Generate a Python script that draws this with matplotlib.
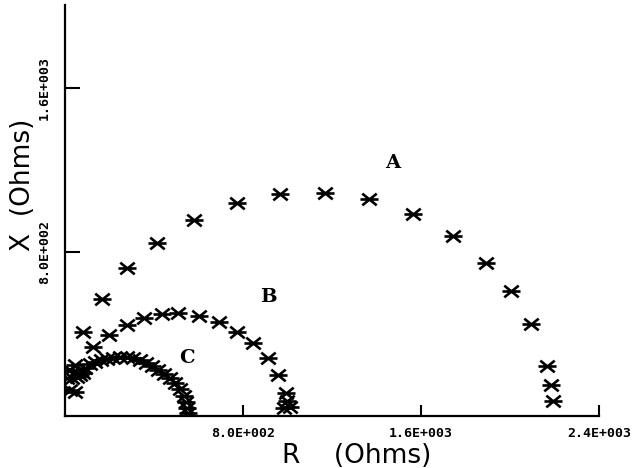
import matplotlib
matplotlib.use("Agg")
from matplotlib import pyplot as plt
from matplotlib.path import Path

# impedance spectra, resistance R vs reactance X (Ohms)
r_a = [81, 166, 279, 413, 580, 773, 966, 1169, 1366, 1564, 1744, 1892, 2004, 2094, 2166, 2184, 2193]
x_a = [410, 571, 722, 844, 956, 1039, 1083, 1088, 1059, 985, 878, 746, 610, 449, 244, 151, 73]

r_b = [126, 198, 279, 355, 436, 508, 602, 692, 773, 845, 912, 957, 993, 998, 1011, 985]
x_b = [337, 395, 444, 478, 498, 502, 488, 459, 410, 356, 283, 200, 112, 73, 44, 40]

r_c = [22, 9, 22, 45, 67, 90, 112, 135, 162, 189, 216, 247, 279, 306, 337, 364, 391,
       418, 445, 472, 494, 517, 535, 544, 548, 553, 31, 54, 81, 45]
x_c = [127, 185, 224, 249, 200, 234, 254, 263, 273, 278, 283, 288, 288, 283, 273, 259, 244,
       224, 205, 185, 161, 132, 98, 68, 39, 15, 185, 190, 210, 117]

xticks = [800, 1600, 2400]
xtick_labels = ["8.0E+002", "1.6E+003", "2.4E+003"]
yticks = [800, 1600]
ytick_labels = ["8.0E+002", "1.6E+003"]

# asterisk: horizontal bar crossed by an X
star = Path([(-1, 0), (1, 0), (-0.8, -0.65), (0.8, 0.65), (-0.8, 0.65), (0.8, -0.65)],
            [Path.MOVETO, Path.LINETO] * 3)

fig = plt.figure(figsize=(6.36, 4.68), dpi=100)
ax = fig.add_axes([65 / 636, 52 / 468, 534 / 636, 411 / 468])

for r, x in [(r_a, x_a), (r_b, x_b), (r_c, x_c)]:
    ax.plot(r, x, linestyle="none", marker=star, markersize=13,
            markeredgewidth=1.9, color="black")

ax.set_xlim(0, 2400)
ax.set_ylim(0, 2005)
for side in ["top", "right"]:
    ax.spines[side].set_visible(False)
for side in ["left", "bottom"]:
    ax.spines[side].set_linewidth(1.6)

ax.set_xticks(xticks)
ax.set_xticklabels(xtick_labels, family="DejaVu Sans Mono", weight="bold", fontsize=9.5)
ax.set_yticks(yticks)
ax.set_yticklabels(ytick_labels, family="DejaVu Sans Mono", weight="bold", fontsize=9.5,
                   rotation=90, va="center")
ax.tick_params(axis="x", direction="in", length=8, width=1.5, pad=8)
ax.tick_params(axis="y", direction="in", length=11, width=1.5, pad=10)

for name, r, x in [("A", 1474, 1234), ("B", 912, 580), ("C", 548, 283)]:
    ax.text(r, x, name, family="DejaVu Serif", weight="bold", fontsize=14,
            ha="center", va="center")

fig.text(357 / 636, 1 - 463 / 468, "R    (Ohms)", family="DejaVu Sans",
         fontsize=19, ha="center", va="baseline")
fig.text(23 / 636, 1 - 185 / 468, "X  (Ohms)", family="DejaVu Sans",
         fontsize=19, ha="center", va="center", rotation=90)

fig.savefig("out.png", dpi=100)
